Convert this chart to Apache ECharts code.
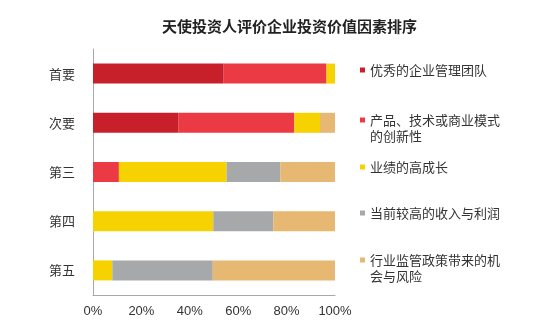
<!DOCTYPE html>
<html>
<head>
<meta charset="utf-8">
<script src="https://cdn.jsdelivr.net/npm/echarts@6/dist/echarts.min.js"></script>
<style>
html,body{margin:0;padding:0;background:#fff;}
#c{width:550px;height:330px;}
</style>
</head>
<body>
<div id="c"></div>
<script>
var categories = ['首要', '次要', '第三', '第四', '第五'];
var seriesNames = ['优秀的企业管理团队', '产品、技术或商业模式的创新性', '业绩的高成长', '当前较高的收入与利润', '行业监管政策带来的机会与风险'];
var mgmtTeam   = [54.0, 35.4, 0,    0,    0];
var innovation = [42.5, 47.8, 10.7, 0,    0];
var growth     = [3.5,  10.6, 44.5, 49.7, 8.0];
var profit     = [0,    0,    22.2, 24.8, 41.5];
var policy     = [0,    6.2,  22.6, 25.5, 50.5];
var xTicks = [0, 20, 40, 60, 80, 100];

var colors = ['#C8202B', '#EC3A44', '#F6D200', '#A7A8AA', '#E6B872'];
var values = [mgmtTeam, innovation, growth, profit, policy];
var legendLabels = ['优秀的企业管理团队', '\n产品、技术或商业模式\n的创新性', '业绩的高成长', '当前较高的收入与利润', '\n行业监管政策带来的机\n会与风险'];
var legendTops = [62, 96, 159, 205, 236];

var chart = echarts.init(document.getElementById('c'));
var series = seriesNames.map(function (n, i) {
  return {
    name: n, type: 'bar', stack: 'total', barWidth: 20,
    itemStyle: { color: colors[i] },
    data: values[i]
  };
});
var legends = seriesNames.map(function (n, i) {
  return {
    data: [n], left: 360, top: legendTops[i], padding: 0,
    icon: 'rect', itemWidth: 5, itemHeight: 5, itemGap: 2,
    selectedMode: false,
    formatter: function () { return legendLabels[i]; },
    textStyle: {
      color: '#333', fontSize: 13, lineHeight: 16,
      fontFamily: 'Noto Sans CJK SC'
    }
  };
});
chart.setOption({
  animation: false,
  title: {
    text: '天使投资人评价企业投资价值因素排序',
    left: 157, top: 14,
    textStyle: { fontSize: 15, fontWeight: 'bold', color: '#222', fontFamily: 'Noto Sans CJK SC' }
  },
  legend: legends,
  grid: { left: 93, right: 215, top: 49, bottom: 35, containLabel: false },
  xAxis: {
    type: 'value', min: 0, max: 100, interval: 20,
    axisLine: { show: true, lineStyle: { color: '#a8a8a8', width: 1 } },
    axisTick: { show: false },
    splitLine: { show: false },
    axisLabel: {
      color: '#333', fontSize: 13, margin: 10, fontFamily: 'Liberation Sans',
      formatter: function (v) { return xTicks.indexOf(v) >= 0 ? v + '%' : ''; }
    }
  },
  yAxis: {
    type: 'category', data: categories, inverse: true,
    axisLine: { show: true, lineStyle: { color: '#a8a8a8', width: 1 } },
    axisTick: { show: false },
    axisLabel: { color: '#333', fontSize: 13, margin: 18, fontFamily: 'Noto Sans CJK SC' }
  },
  series: series
});
</script>
</body>
</html>
